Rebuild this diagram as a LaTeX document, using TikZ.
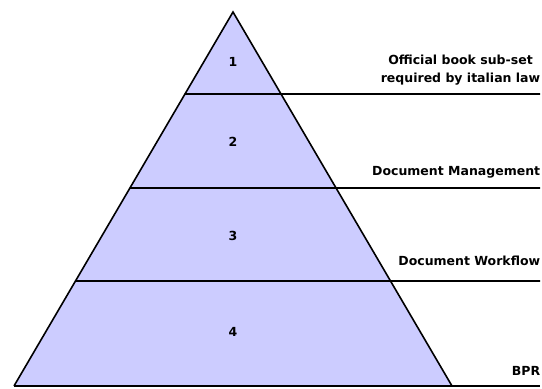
\documentclass[tikz,border=0pt]{standalone}
\usepackage{fontspec}
\setmainfont{DejaVu Sans}
\usetikzlibrary{calc}
\definecolor{pyrfill}{RGB}{204,204,255}
\begin{document}
\begin{tikzpicture}[x=1pt, y=-1pt, line width=1.6pt,
    lvl/.style={inner sep=0pt, font=\bfseries\fontsize{12.5}{15}\selectfont},
    lbl/.style={inner sep=0pt, anchor=base east, align=center,
      font=\bfseries\fontsize{12.5}{18}\selectfont}]
  \useasboundingbox (0,0) rectangle (542,389);

  \coordinate (top) at (233,12);
  \coordinate (bl) at (14,386);
  \coordinate (br) at (452,386);
  \fill[pyrfill] (top) -- (bl) -- (br) -- cycle;

  % layer boundaries, from the left side out to the labels
  \coordinate (l1) at ($(top)!{82/374}!(bl)$);
  \coordinate (l2) at ($(top)!{176/374}!(bl)$);
  \coordinate (l3) at ($(top)!{269/374}!(bl)$);
  \draw (l1) -- (540,94);
  \draw (l2) -- (540,188);
  \draw (l3) -- (540,281);
  \draw (bl) -- (540,386);
  \draw[line join=miter] (bl) -- (top) -- (br);

  \node[lvl] (n1) at (233,62) {1};
  \node[lvl] (n2) at (233,142) {2};
  \node[lvl] (n3) at (233,236) {3};
  \node[lvl] (n4) at (233,332) {4};

  \node[lbl] (books) at (541,82) {Official book sub-set\\required by italian law};
  \node[lbl] (dms) at (541,175) {Document Management};
  \node[lbl] (wf) at (541,265) {Document Workflow};
  \node[lbl] (bpr) at (541,375) {BPR};
\end{tikzpicture}
\end{document}
